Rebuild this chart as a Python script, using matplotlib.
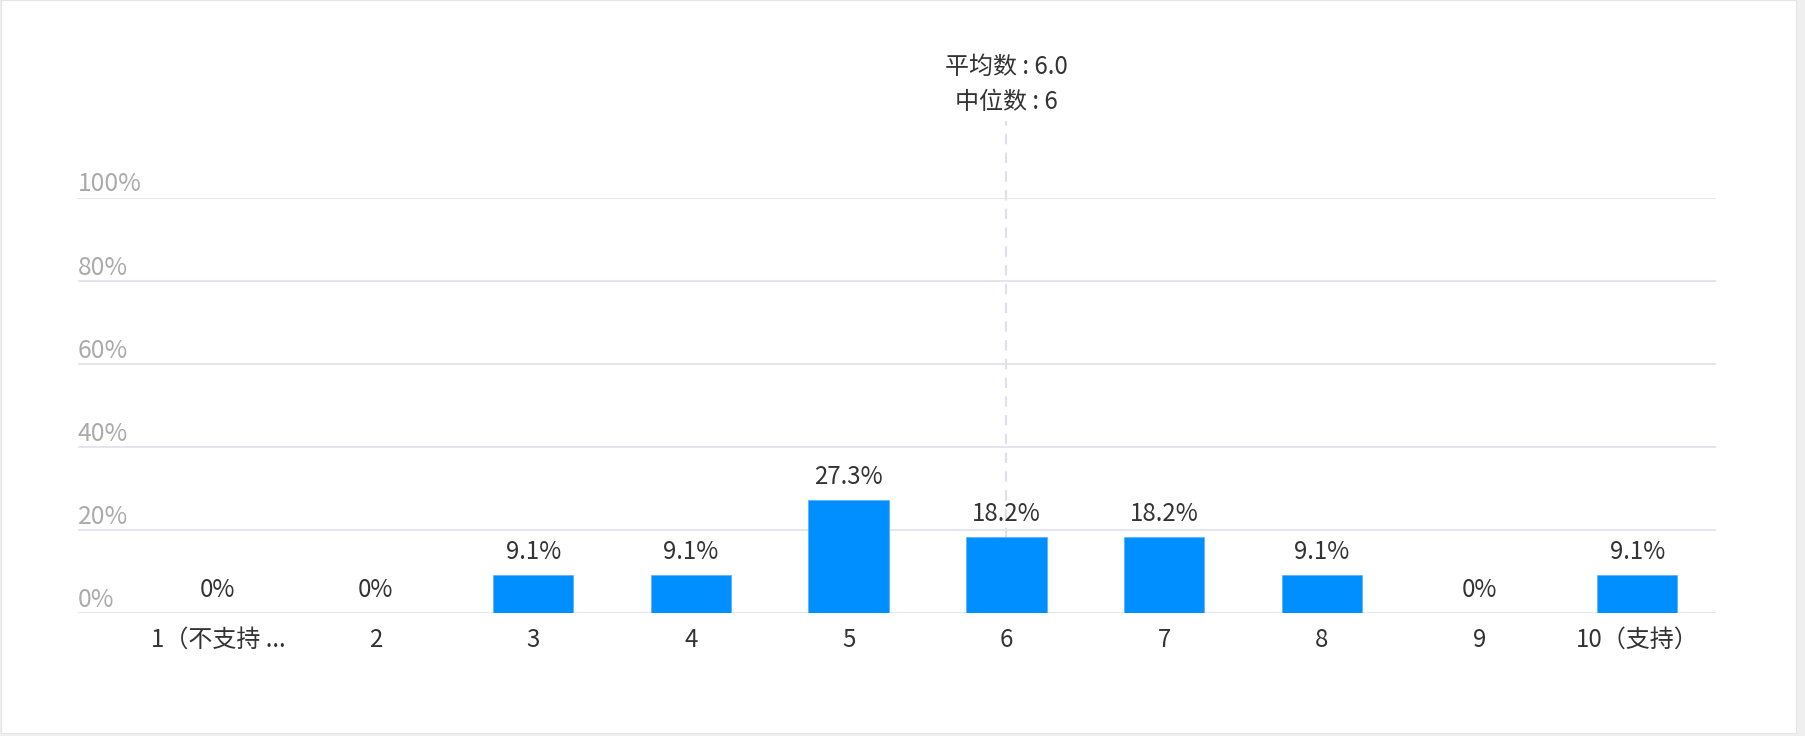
import matplotlib
matplotlib.use("Agg")
import matplotlib.pyplot as plt
from matplotlib.patches import Rectangle

plt.rcParams['font.family'] = ['Noto Sans CJK SC', 'DejaVu Sans']

categories = ["1（不支持 ...", "2", "3", "4", "5", "6", "7", "8", "9", "10（支持）"]
values = [0, 0, 9.1, 9.1, 27.3, 18.2, 18.2, 9.1, 0, 9.1]
value_labels = ["0%", "0%", "9.1%", "9.1%", "27.3%", "18.2%", "18.2%", "9.1%", "0%", "9.1%"]
y_ticks = [0, 20, 40, 60, 80, 100]
y_tick_labels = ["0%", "20%", "40%", "60%", "80%", "100%"]
mean_value = 6.0
median_value = 6
mean_text = "平均数 : 6.0"
median_text = "中位数 : 6"

W, H = 1806, 736
fig = plt.figure(figsize=(W / 100, H / 100), dpi=100)
fig.patch.set_facecolor("#efefef")

# white card
card = Rectangle((1 / W, 1 - 733 / H), (1796 - 1) / W, 733 / H,
                 transform=fig.transFigure, facecolor="white",
                 edgecolor="#e4e4e4", linewidth=0.8, zorder=-10)
fig.patches.append(card)

left, right = 78, 1716
y0, y100 = 613, 197.7
ax = fig.add_axes([left / W, 1 - y0 / H, (right - left) / W, (y0 - y100) / H])
ax.set_zorder(1)
ax.set_facecolor("none")
ax.set_xlim(-0.887, 9.5)
ax.set_ylim(0, 100)
for s in ax.spines.values():
    s.set_visible(False)
ax.set_xticks([])
ax.set_yticks([])

grid_color = "#e1e4f0"
for t, lab in zip(y_ticks, y_tick_labels):
    ax.axhline(t, color=grid_color, lw=1.3, zorder=1)
    ax.annotate(lab, xy=(0, t), xycoords=("axes fraction", "data"),
                xytext=(0, 4.5), textcoords="offset points",
                ha="left", va="baseline", fontsize=17.8, color="#aaaaaa")

x = list(range(len(categories)))
# mean line
ax.plot([mean_value - 1, mean_value - 1], [0, 118.5], color="#dde1ee",
        lw=1.5, ls=(0, (5, 4)), zorder=1.5, clip_on=False)
ax.text(mean_value - 1, 131.5, mean_text, ha="center", va="center",
        fontsize=17.3, color="#333333", clip_on=False)
ax.text(median_value - 1, 123.0, median_text, ha="center", va="center",
        fontsize=17.3, color="#333333", clip_on=False)

ax.bar(x, values, width=0.51, color="#008ffe", edgecolor="#5cb4ff",
       linewidth=0.6, zorder=2)

for xi, v, lab in zip(x, values, value_labels):
    ax.annotate(lab, xy=(xi, v), xytext=(0, 11.5), textcoords="offset points",
                ha="center", va="baseline", fontsize=17.3, color="#333333", zorder=3)

for xi, lab in zip(x, categories):
    ax.annotate(lab, xy=(xi, 0), xytext=(0, -24.5), textcoords="offset points",
                ha="center", va="baseline", fontsize=17.3, color="#333333",
                annotation_clip=False)

fig.savefig("out.png", dpi=100)
